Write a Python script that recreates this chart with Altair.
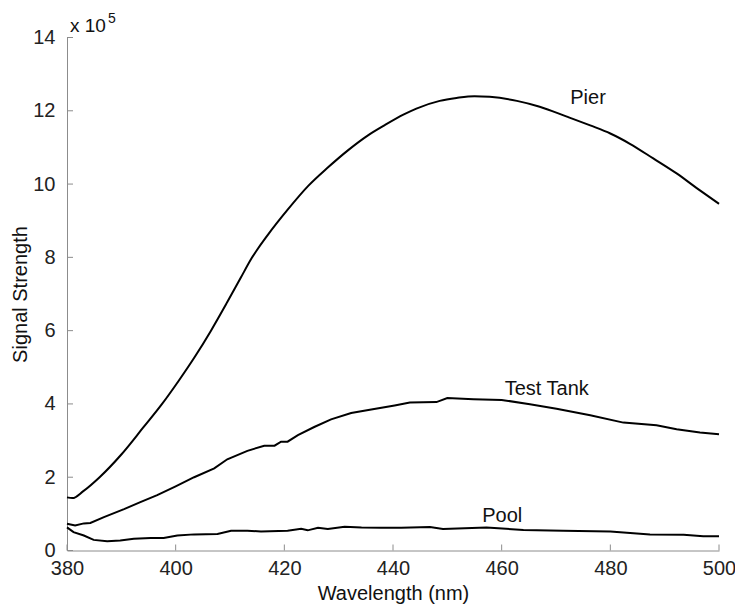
import altair as alt
import pandas as pd

# ---- data (signal strength in units of 1e5) ----
pier_wl = [380, 381, 383, 386, 390, 394, 397.5, 400.5, 403.5, 406.5, 409.5, 412,
           414, 417, 420.5, 424.4, 428, 431.7, 435.4, 438.5, 442, 444.3, 448.6, 451.7,
           455, 457.8, 462.8, 467, 472, 476.3, 480, 483.6, 487.9, 492.2, 495.9, 500]
pier_val = [1.45, 1.43, 1.62, 2.00, 2.62, 3.35, 4.00, 4.62, 5.28, 6.00, 6.78, 7.45,
            7.98, 8.62, 9.28, 9.95, 10.45, 10.92, 11.33, 11.61, 11.90, 12.06, 12.27, 12.35,
            12.40, 12.38, 12.27, 12.11, 11.84, 11.60, 11.38, 11.10, 10.70, 10.29, 9.89, 9.46]

tank_wl = [380, 381.5, 383.1, 384.3, 386.8, 390.5, 393.5, 396.6, 400, 403.4, 407.1, 409.5,
           413.2, 416.3, 418.2, 419.4, 420.6, 422.5, 425.5, 428.6, 432.3, 436, 440.3, 443.1,
           448, 450, 454.8, 460, 465.2, 470.1, 476.3, 482.4, 488.5, 492.2, 496.5, 500]
tank_val = [0.73, 0.68, 0.74, 0.75, 0.91, 1.13, 1.32, 1.51, 1.75, 2.00, 2.24, 2.49,
            2.72, 2.86, 2.86, 2.97, 2.97, 3.15, 3.37, 3.58, 3.75, 3.85, 3.96, 4.04,
            4.05, 4.16, 4.13, 4.11, 3.99, 3.87, 3.69, 3.49, 3.42, 3.31, 3.22, 3.17]

pool_wl = [380, 381.2, 383.1, 384.9, 387.4, 389.8, 392.3, 395.4, 397.8, 400.3, 403.4, 407.7,
           410.2, 413.2, 415.7, 420.6, 423.1, 424.3, 426.2, 428, 431.1, 434.2, 437.8, 441.5,
           446.8, 449.2, 457.2, 464, 471.3, 480, 487.3, 493.5, 497.1, 500]
pool_val = [0.63, 0.50, 0.41, 0.29, 0.25, 0.27, 0.32, 0.34, 0.34, 0.41, 0.44, 0.45,
            0.54, 0.54, 0.52, 0.54, 0.59, 0.55, 0.62, 0.59, 0.65, 0.63, 0.62, 0.62,
            0.64, 0.59, 0.63, 0.56, 0.54, 0.52, 0.44, 0.43, 0.39, 0.39]

label_text = ["Pier", "Test Tank", "Pool"]
label_wl = [475.9, 468.3, 460.1]
label_val = [12.34, 4.42, 0.94]

x_ticks = [380, 400, 420, 440, 460, 480, 500]
y_ticks = [0, 2, 4, 6, 8, 10, 12, 14]

# ---- tables ----
def table(name, wl, val):
    return pd.DataFrame({"series": name, "wl": wl, "val": val})

pier_df = table("Pier", pier_wl, pier_val)
rough_df = pd.concat([table("Test Tank", tank_wl, tank_val), table("Pool", pool_wl, pool_val)],
                     ignore_index=True)
labels = pd.DataFrame({"text": label_text, "wl": label_wl, "val": label_val})
xt = pd.DataFrame({"t": x_ticks})
yt = pd.DataFrame({"t": y_ticks})
corner = pd.DataFrame({"wl": [380], "val": [14]})

W, H = 652, 513
FONT = "Liberation Sans"
GREY = "#8c8c8c"

xs = alt.Scale(domain=[380, 500], nice=False, zero=False)
ys = alt.Scale(domain=[0, 14], nice=False, zero=False)

pier = alt.Chart(pier_df).mark_line(color="black", strokeWidth=2, interpolate="monotone").encode(
    x=alt.X("wl:Q", scale=xs, axis=alt.Axis(
        values=x_ticks, title="Wavelength (nm)", ticks=False, grid=False,
        labelPadding=8, titlePadding=5, labelFlush=False)),
    y=alt.Y("val:Q", scale=ys, axis=alt.Axis(
        values=y_ticks, title="Signal Strength", ticks=False, grid=False,
        labelPadding=12, titlePadding=2, labelFlush=False)),
)

rough = alt.Chart(rough_df).mark_line(color="black", strokeWidth=2).encode(
    x=alt.X("wl:Q", scale=xs), y=alt.Y("val:Q", scale=ys), detail="series:N")

text = alt.Chart(labels).mark_text(font=FONT, fontSize=20, color="#111111",
                                   align="center", baseline="middle").encode(
    x=alt.X("wl:Q", scale=xs), y=alt.Y("val:Q", scale=ys), text="text:N")

xtick = alt.Chart(xt).mark_rule(color=GREY, strokeWidth=1).encode(
    x=alt.X("t:Q", scale=xs), y=alt.value(H), y2=alt.value(H - 6))
ytick = alt.Chart(yt).mark_rule(color=GREY, strokeWidth=1).encode(
    y=alt.Y("t:Q", scale=ys), x=alt.value(0), x2=alt.value(6))

exp_base = alt.Chart(corner).mark_text(font=FONT, fontSize=19, color="#111111",
                                       align="left", baseline="alphabetic", dx=3, dy=-6).encode(
    x=alt.X("wl:Q", scale=xs), y=alt.Y("val:Q", scale=ys), text=alt.value("x 10"))
exp_sup = alt.Chart(corner).mark_text(font=FONT, fontSize=14, color="#111111",
                                      align="left", baseline="alphabetic", dx=41, dy=-15).encode(
    x=alt.X("wl:Q", scale=xs), y=alt.Y("val:Q", scale=ys), text=alt.value("5"))

chart = alt.layer(pier, rough, xtick, ytick, text, exp_base, exp_sup).properties(
    width=W, height=H,
    autosize=alt.AutoSizeParams(type="none"),
    padding={"left": 59, "top": 29.5, "right": 16, "bottom": 54},
).configure_view(stroke=None).configure_axis(
    domainColor=GREY, domainWidth=1,
    labelFont=FONT, labelFontSize=20, labelColor="#222222",
    titleFont=FONT, titleFontSize=20, titleFontWeight="normal", titleColor="#111111",
)

chart.save("out.html", embed_options={"renderer": "svg", "actions": False})
